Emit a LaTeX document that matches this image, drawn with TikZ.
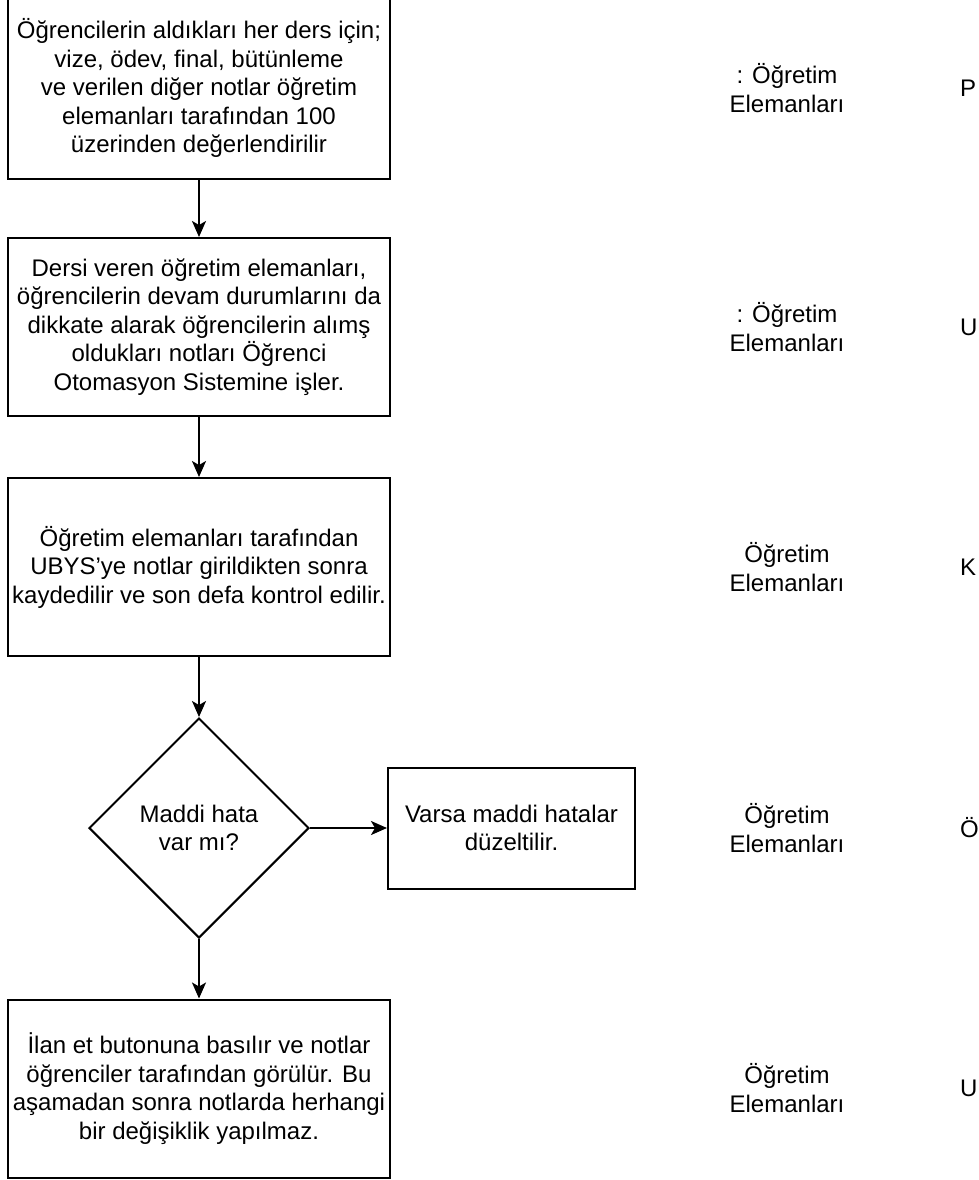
\documentclass[tikz,border=0pt]{standalone}
\usepackage{fontspec}
\setmainfont{Liberation Sans}
\usetikzlibrary{shapes.geometric,arrows.meta}
\begin{document}
\begin{tikzpicture}[x=1bp,y=-1bp,
  every node/.style={font=\fontsize{24bp}{28.5bp}\selectfont, inner sep=0pt},
  stepbox/.style={draw, line width=2bp, minimum width=382bp, minimum height=178bp, align=center},
  sidebox/.style={draw, line width=2bp, minimum width=247bp, minimum height=121bp, align=center},
  decision/.style={draw, line width=2bp, diamond, minimum width=220bp, minimum height=220bp, inner sep=0pt},
  rolelbl/.style={align=center, font=\fontsize{24bp}{29.5bp}\selectfont},
  cutlbl/.style={anchor=west},
  flow/.style={line width=2bp, -{Stealth[length=16bp,width=14bp,inset=4bp]}}
]
\useasboundingbox (0,0) rectangle (979,1180);
\node[stepbox, minimum height=181bp] (b1) at (199,88) {Öğrencilerin aldıkları her ders için;\\ vize, ödev, final, bütünleme\\ ve verilen diğer notlar öğretim\\ elemanları tarafından 100\\ üzerinden değerlendirilir};
\node[stepbox] (b2) at (199,327) {Dersi veren öğretim elemanları,\\ öğrencilerin devam durumlarını da\\ dikkate alarak öğrencilerin alımş\\ oldukları notları Öğrenci\\ Otomasyon Sistemine işler.};
\node[stepbox] (b3) at (199,567) {Öğretim elemanları tarafından\\ UBYS’ye notlar girildikten sonra\\ kaydedilir ve son defa kontrol edilir.};
\node[decision] (d) at (199,828) {};
\node[align=center] (dt) at (199,828) {Maddi hata\\ var mı?};
\node[sidebox] (s) at (511.5,828) {Varsa maddi hatalar\\ düzeltilir.};
\node[stepbox] (b5) at (199,1088.5) {İlan et butonuna basılır ve notlar\\ öğrenciler tarafından görülür. Bu\\ aşamadan sonra notlarda herhangi\\ bir değişiklik yapılmaz.};

\draw[flow] (b1.south) -- (b2.north);
\draw[flow] (b2.south) -- (b3.north);
\draw[flow] (b3.south) -- (d.north);
\draw[flow] (d.east) -- (s.west);
\draw[flow] (d.south) -- (b5.north);

\node[rolelbl] (r1) at (787,88) {: Öğretim\\ Elemanları};
\node[rolelbl] (r2) at (787,327) {: Öğretim\\ Elemanları};
\node[rolelbl] (r3) at (787,567) {Öğretim\\ Elemanları};
\node[rolelbl] (r4) at (787,828) {Öğretim\\ Elemanları};
\node[rolelbl] (r5) at (787,1088) {Öğretim\\ Elemanları};
\node[cutlbl] (c1) at (960,88) {P};
\node[cutlbl] (c2) at (960,327) {U};
\node[cutlbl] (c3) at (960,567) {K};
\node[cutlbl] (c4) at (960,828) {Ö};
\node[cutlbl] (c5) at (960,1088) {U};
\end{tikzpicture}
\end{document}
